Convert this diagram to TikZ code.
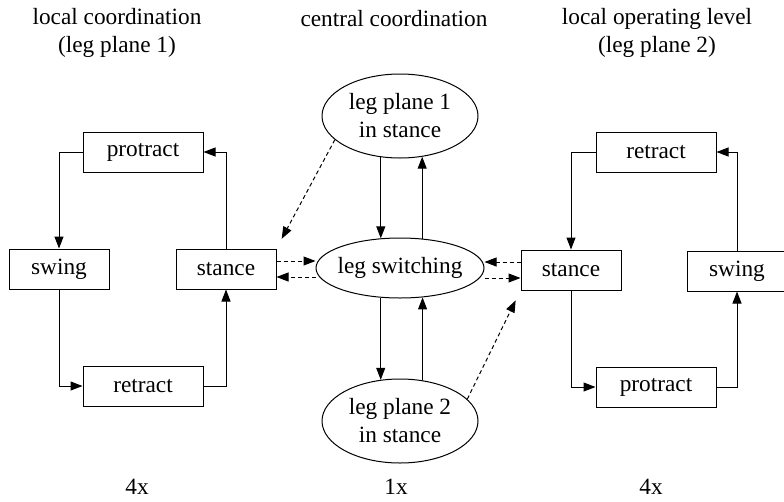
\documentclass[tikz,border=0pt]{standalone}
\usepackage{fontspec}
\setmainfont{Liberation Serif}
\usetikzlibrary{arrows.meta,shapes.geometric}
\begin{document}
\begin{tikzpicture}[x=1pt,y=-1pt,
  every node/.style={font=\rmfamily\fontsize{23.3pt}{28pt}\selectfont, inner sep=0pt},
  wide/.style={draw, line width=1pt, minimum width=120pt, minimum height=40pt},
  narrow/.style={draw, line width=1pt, minimum width=100pt, minimum height=40pt},
  oval/.style={draw, ellipse, line width=1pt},
  flow/.style={line width=1pt, -{Triangle[length=12pt,width=9pt]}},
  hint/.style={line width=1pt, dash pattern=on 4pt off 3pt, -{Triangle[length=12pt,width=9pt]}},
  title/.style={align=center}]
\useasboundingbox (0,0) rectangle (784,501);

% titles
\node[title] (t1) at (117,33) {local coordination\\(leg plane 1)};
\node[title] (t2) at (394,19) {central coordination};
\node[title] (t3) at (657,33) {local operating level\\(leg plane 2)};
\node (n1) at (137,487) {4x};
\node (n2) at (396,487) {1x};
\node (n3) at (651,487) {4x};

% left
\node[wide] (lp) at (143,152) {protract};
\node[narrow] (lsw) at (59,269) {swing};
\node[narrow] (ls) at (226,269) {stance};
\node[wide] (lr) at (143,386) {retract};

% right
\node[wide] (rr) at (656,152) {retract};
\node[narrow] (rs) at (571,270) {stance};
\node[narrow] (rsw) at (737,271) {swing};
\node[wide] (rp) at (656,387) {protract};

% center
\node[oval, minimum width=156pt, minimum height=84pt, align=center] (t) at (400,116) {leg plane 1\\in stance};
\node[oval, minimum width=168pt, minimum height=60pt] (m) at (400,268) {\makebox[0pt]{leg switching}};
\node[oval, minimum width=156pt, minimum height=84pt, align=center] (b) at (400,421) {leg plane 2\\in stance};

% left loop
\draw[flow] (lp.west) -| (lsw.north);
\draw[flow] (lsw.south) |- (lr.west);
\draw[flow] (lr.east) -| (ls.south);
\draw[flow] (ls.north) |- (lp.east);

% right loop
\draw[flow] (rr.west) -| (rs.north);
\draw[flow] (rs.south) |- (rp.west);
\draw[flow] (rp.east) -| (rsw.south);
\draw[flow] (rsw.north) |- (rr.east);

% center verticals
\draw[flow] (t.245) -- (t.245 |- m.123);
\draw[flow] (m.53) -- (m.53 |- t.299);
\draw[flow] (m.237) -- (m.237 |- b.115);
\draw[flow] (b.61) -- (b.61 |- m.307);

% dashed
\draw[hint] ([yshift=8pt]ls.east) -- ([yshift=8pt]ls.east -| m.west);
\draw[hint] ([yshift=-8pt]ls.east -| m.west) -- ([yshift=-8pt]ls.east);
\draw[hint] ([yshift=8pt]rs.west) -- ([yshift=8pt]rs.west -| m.east);
\draw[hint] ([yshift=-8pt]rs.west -| m.east) -- ([yshift=-8pt]rs.west);
\draw[hint, shorten >=11pt] (t.200) -- (ls.north east);
\draw[hint, shorten >=11pt] (b.18) -- (rs.south west);
\end{tikzpicture}
\end{document}
